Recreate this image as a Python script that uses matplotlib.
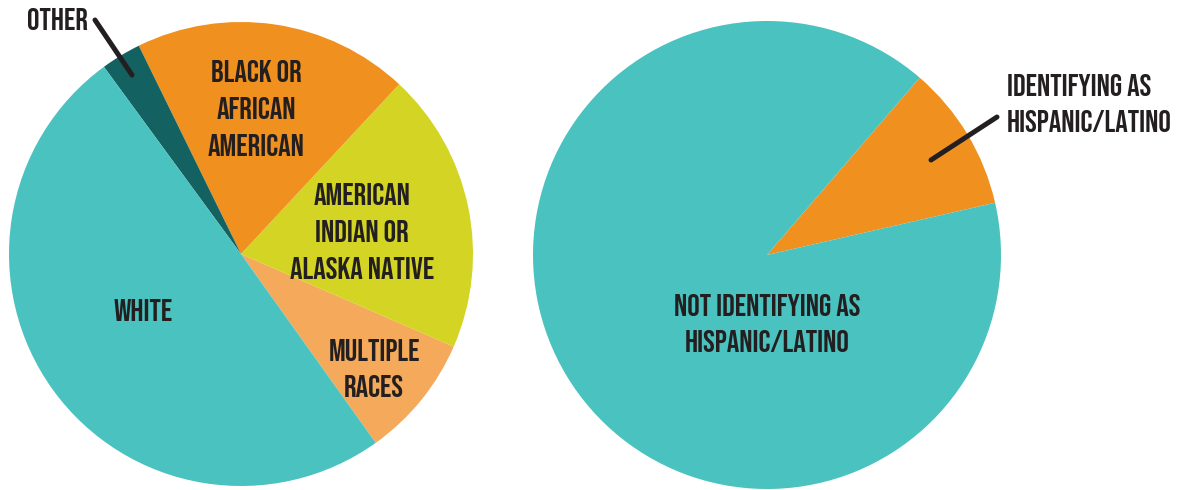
import matplotlib
matplotlib.use('Agg')
import matplotlib.pyplot as plt

# ── data ──────────────────────────────────────────────────────────────────────
race_labels = ['MULTIPLE\nRACES', 'AMERICAN\nINDIAN OR\nALASKA NATIVE',
               'BLACK OR\nAFRICAN\nAMERICAN', 'OTHER', 'WHITE']
race_values = [8.6, 19.6, 19.2, 2.8, 49.8]

hisp_labels = ['IDENTIFYING AS\nHISPANIC/LATINO', 'NOT IDENTIFYING AS\nHISPANIC/LATINO']
hisp_values = [10.1, 89.9]

# ── palette ───────────────────────────────────────────────────────────────────
TEAL    = '#4ac2c0'
DTEAL   = '#136160'
ORANGE  = '#f0911f'
YELLOW  = '#d4d424'
LORANGE = '#f5a95a'
INK     = '#231f20'

race_colors = [LORANGE, YELLOW, ORANGE, DTEAL, TEAL]
hisp_colors = [ORANGE, TEAL]

W, H = 1186, 490
FONT = dict(family=['Bebas Neue', 'Oswald', 'DejaVu Sans'],
            fontsize=22.5, color=INK, linespacing=1.66)


def py(y):
    # pixel row (top-down) -> axes y (bottom-up)
    return H - y


fig = plt.figure(figsize=(W / 100, H / 100), dpi=100, facecolor='white')
ax = fig.add_axes([0, 0, 1, 1])

ax.pie(race_values, colors=race_colors, startangle=-54.5, counterclock=True,
       center=(241, py(254)), radius=232, frame=True,
       wedgeprops=dict(linewidth=0))
ax.pie(hisp_values, colors=hisp_colors, startangle=12.9, counterclock=True,
       center=(767, py(255)), radius=234, frame=True,
       wedgeprops=dict(linewidth=0))
ax.set_xlim(0, W)
ax.set_ylim(0, H)
ax.set_aspect('equal')
ax.axis('off')

# slice labels
ax.text(374, py(368), race_labels[0], ha='center', va='center', **FONT)
ax.text(362, py(231), race_labels[1], ha='center', va='center', **FONT)
ax.text(256, py(108), race_labels[2], ha='center', va='center', **FONT)
ax.text(57, py(19), race_labels[3], ha='center', va='center', **FONT)
ax.text(143, py(310), race_labels[4], ha='center', va='center', **FONT)

ax.text(1007, py(103), hisp_labels[0], ha='left', va='center', **FONT)
ax.text(767, py(323), hisp_labels[1], ha='center', va='center', **FONT)

# leader lines
ax.plot([95, 132], [py(20), py(75)], color=INK, lw=3.6, solid_capstyle='round')
ax.plot([997, 931], [py(117), py(160)], color=INK, lw=3.6, solid_capstyle='round')

fig.savefig('out.png', dpi=100, facecolor='white')
